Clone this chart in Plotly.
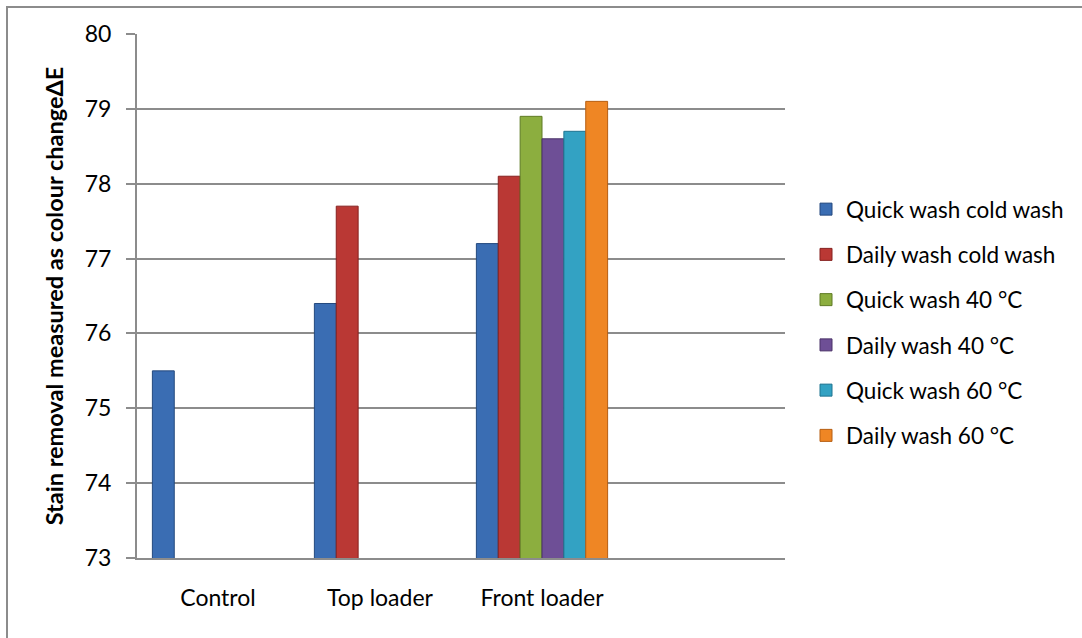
import plotly.graph_objects as go

categories = ["Control", "Top loader", "Front loader", " "]
series_names = [
    "Quick wash cold wash",
    "Daily wash cold wash",
    "Quick wash 40 °C",
    "Daily wash 40 °C",
    "Quick wash 60 °C",
    "Daily wash 60 °C",
]
quick_cold = [75.5, 76.4, 77.2, None]
daily_cold = [None, 77.7, 78.1, None]
quick_40 = [None, None, 78.9, None]
daily_40 = [None, None, 78.6, None]
quick_60 = [None, None, 78.7, None]
daily_60 = [None, None, 79.1, None]
series_values = [quick_cold, daily_cold, quick_40, daily_40, quick_60, daily_60]

y_ticks = [73, 74, 75, 76, 77, 78, 79, 80]

fills = ["#3A6DB3", "#BA3834", "#8CAE3F", "#6E4F96", "#33A2C3", "#EF8624"]
edges = ["#24497E", "#86211F", "#5F7B25", "#4A3268", "#1F7490", "#B65E12"]

FONT = "Lato, Carlito, Calibri, 'Open Sans', sans-serif"

fig = go.Figure()
for i, (name, vals) in enumerate(zip(series_names, series_values)):
    fig.add_trace(go.Bar(
        x=categories, y=vals, name=name,
        marker=dict(color=fills[i], line=dict(color=edges[i], width=1)),
        legendgroup=f"g{i}",
    ))

# plot area in pixels: x 137-785, y 34-558
L, R, T, B = 137, 785, 34, 558
W, H = R - L, B - T

fig.update_layout(
    width=1082, height=638,
    margin=dict(l=L, r=1082 - R, t=T, b=638 - B, autoexpand=False),
    paper_bgcolor="white", plot_bgcolor="white",
    barmode="group", bargap=0.19, bargroupgap=0,
    font=dict(family=FONT, color="black", size=22),
    showlegend=True,
    legend=dict(
        x=(806 - L) / W, xanchor="left",
        y=(B - 188) / H, yanchor="top",
        font=dict(family=FONT, size=22.5, color="black"),
        tracegroupgap=13, traceorder="grouped",
        bgcolor="rgba(0,0,0,0)", itemclick=False,
    ),
    shapes=[dict(
        type="rect", xref="paper", yref="paper",
        x0=(7 - L) / W, x1=(1100 - L) / W,
        y0=(B - 660) / H, y1=(B - 7) / H,
        line=dict(color="#8C8C8C", width=2), fillcolor="rgba(0,0,0,0)",
        layer="below",
    )],
)

fig.update_xaxes(
    type="category", categoryorder="array", categoryarray=categories,
    range=[-0.5, 3.5],
    showline=True, linecolor="#8C8C8C", linewidth=2,
    ticks="", showgrid=False,
    tickfont=dict(family=FONT, size=23, color="black"),
    ticklabelstandoff=18,
    automargin=False,
)
fig.update_yaxes(
    range=[73, 80], tickvals=y_ticks, ticktext=[str(v) for v in y_ticks],
    showline=True, linecolor="#8C8C8C", linewidth=2,
    showgrid=True, gridcolor="#8C8C8C", gridwidth=1.5,
    ticks="outside", ticklen=9, tickcolor="#8C8C8C", tickwidth=2,
    tickfont=dict(family=FONT, size=23, color="black"),
    ticklabelstandoff=10,
    zeroline=False,
    title=dict(text="<b>Stain removal measured as colour changeΔE</b>",
               font=dict(family=FONT, size=23.5, color="black"), standoff=14),
    automargin=False,
)

fig.write_html("out.html")
